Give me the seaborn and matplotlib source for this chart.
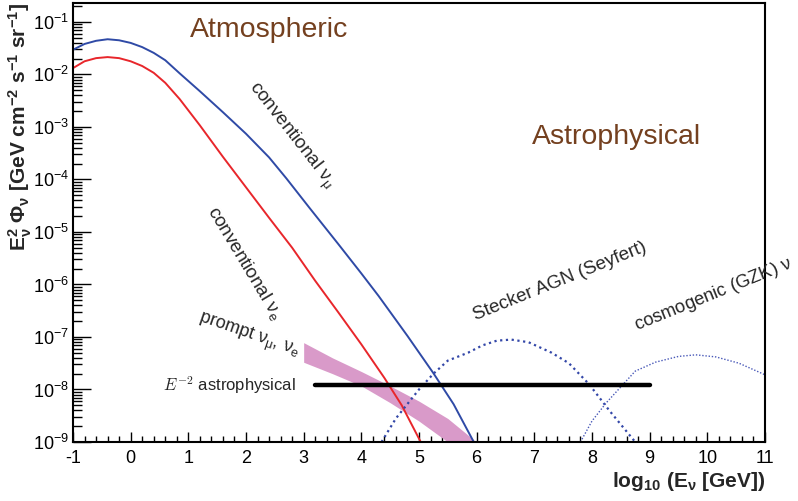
import numpy as np
import pandas as pd
import matplotlib
matplotlib.use("Agg")
import matplotlib.pyplot as plt
from matplotlib.ticker import LogLocator, MultipleLocator, NullFormatter
import seaborn as sns

# ---- data: log10(E / GeV) and log10(E^2 Phi / GeV cm^-2 s^-1 sr^-1) ----
conv_mu_logE = [-1.0, -0.8, -0.6, -0.4, -0.2, 0.0, 0.2, 0.4, 0.6, 0.85, 1.2, 1.6,
                2.0, 2.4, 2.7, 3.1, 3.6, 4.0, 4.3, 4.8, 5.25, 5.6, 5.95]
conv_mu_logF = [-1.53, -1.42, -1.36, -1.33, -1.35, -1.40, -1.48, -1.59, -1.73, -1.98,
                -2.32, -2.72, -3.13, -3.58, -3.98, -4.54, -5.23, -5.79, -6.22, -6.98,
                -7.69, -8.28, -9.0]

conv_e_logE = [-1.0, -0.8, -0.6, -0.4, -0.2, 0.0, 0.2, 0.4, 0.6, 0.85, 1.2, 1.6,
               2.0, 2.4, 2.8, 3.2, 3.6, 4.0, 4.4, 4.7, 5.03]
conv_e_logF = [-1.88, -1.75, -1.69, -1.67, -1.69, -1.75, -1.84, -1.97, -2.16, -2.47,
               -2.97, -3.57, -4.15, -4.73, -5.3, -5.93, -6.53, -7.14, -7.78, -8.3, -9.0]

prompt_logE = [3.0, 3.5, 4.0, 4.5, 5.0, 5.5, 5.95]
prompt_hi = [7.8e-8, 4.0e-8, 2.2e-8, 1.17e-8, 6.0e-9, 2.8e-9, 1.1e-9]
prompt_lo = [3.3e-8, 2.0e-8, 1.17e-8, 5.6e-9, 2.5e-9, 1.0e-9, 3.2e-10]

e2_logE = [3.2, 9.0]
e2_flux = [1.2e-8, 1.2e-8]

agn_logE = [4.35, 4.6, 5.0, 5.25, 5.5, 5.85, 6.1, 6.35, 6.6, 6.9, 7.3, 7.6, 7.95, 8.3, 8.75]
agn_logF = [-9.0, -8.55, -8.0, -7.7, -7.45, -7.3, -7.16, -7.07, -7.05, -7.1, -7.3,
            -7.5, -7.9, -8.4, -9.0]

gzk_logE = [7.8, 8.0, 8.25, 8.5, 8.75, 9.1, 9.5, 9.8, 10.15, 10.55, 11.0]
gzk_logF = [-9.0, -8.6, -8.25, -7.95, -7.65, -7.48, -7.37, -7.34, -7.38, -7.5, -7.72]

sns.set_theme(style="ticks")
plt.rcParams["font.family"] = ["Liberation Sans", "DejaVu Sans"]
plt.rcParams["mathtext.fontset"] = "custom"
plt.rcParams["mathtext.rm"] = "Liberation Sans"
plt.rcParams["mathtext.it"] = "Liberation Sans:italic"
plt.rcParams["mathtext.bf"] = "Liberation Sans:bold"
plt.rcParams["axes.unicode_minus"] = False

fig = plt.figure(figsize=(7.98, 5.01), dpi=100)
ax = fig.add_axes([73 / 798, 1 - 442 / 501, 692 / 798, 439 / 501])
ax.set_yscale("log")


def curve(logE, logF):
    return pd.DataFrame({"logE": logE, "flux": np.power(10.0, logF)})


BLUE = "#2f4aa6"
RED = "#e8262b"
PINK = "#d99ac9"

sns.lineplot(data=curve(conv_mu_logE, conv_mu_logF), x="logE", y="flux", ax=ax,
             color=BLUE, lw=1.4, estimator=None, sort=False)
sns.lineplot(data=curve(conv_e_logE, conv_e_logF), x="logE", y="flux", ax=ax,
             color=RED, lw=1.4, estimator=None, sort=False)
ax.fill_between(prompt_logE, prompt_lo, prompt_hi, color=PINK, lw=0)
sns.lineplot(data=curve(agn_logE, agn_logF), x="logE", y="flux", ax=ax,
             color="#3347a8", lw=1.6, ls=(0, (1, 1.6)), estimator=None, sort=False)
sns.lineplot(data=curve(gzk_logE, gzk_logF), x="logE", y="flux", ax=ax,
             color="#4858b8", lw=1.0, ls=(0, (1, 1.3)), estimator=None, sort=False)
sns.lineplot(data=pd.DataFrame({"logE": e2_logE, "flux": e2_flux}), x="logE", y="flux",
             ax=ax, color="black", lw=3.2, estimator=None, sort=False)

ax.set_xlim(-1, 11)
ax.set_ylim(1e-9, 10 ** -0.64)

ax.xaxis.set_major_locator(MultipleLocator(1))
ax.xaxis.set_minor_locator(MultipleLocator(0.2))
ax.yaxis.set_major_locator(LogLocator(base=10, numticks=20))
ax.yaxis.set_minor_locator(LogLocator(base=10, subs=np.arange(2, 10), numticks=100))
ax.yaxis.set_minor_formatter(NullFormatter())

ax.tick_params(axis="both", which="both", direction="in", top=False, right=False,
               colors="black", labelsize=13, width=1.0)
ax.tick_params(axis="y", which="major", length=13, pad=3)
ax.tick_params(axis="y", which="minor", length=6.5)
ax.tick_params(axis="x", which="major", length=7.5, pad=6)
ax.tick_params(axis="x", which="minor", length=4.3)
for s in ax.spines.values():
    s.set_linewidth(1.5)
    s.set_color("black")

ax.set_ylabel(r"$\mathbf{E^{2}_{\nu}\ \Phi_{\nu}\ [GeV\ cm^{-2}\ s^{-1}\ sr^{-1}]}$",
              fontsize=15, loc="top")
ax.yaxis.set_label_coords(-0.057, 1.0)
ax.set_xlabel(r"$\mathbf{log_{10}\ (E_{\nu}\ [GeV])}$", fontsize=15, loc="right",
              labelpad=2)

BROWN = "#74401f"
ax.text(0.283, 0.938, "Atmospheric", transform=ax.transAxes, fontsize=20.5,
        color=BROWN, ha="center", va="center")
ax.text(0.786, 0.695, "Astrophysical", transform=ax.transAxes, fontsize=20.5,
        color=BROWN, ha="center", va="center")

ax.text(2.78, 7e-4, r"conventional $\mathrm{\nu_{\mu}}$", fontsize=13.5, rotation=-52,
        ha="center", va="center", rotation_mode="anchor")
ax.text(1.97, 2.6e-6, r"conventional $\mathrm{\nu_{e}}$", fontsize=13.5, rotation=-59,
        ha="center", va="center", rotation_mode="anchor")
ax.text(2.05, 1.05e-7, r"prompt $\mathrm{\nu_{\mu},\,\nu_{e}}$", fontsize=13,
        rotation=-19, ha="center", va="center", rotation_mode="anchor")
ax.text(2.86, 1.2e-8, r"$E^{-2}$ astrophysical", fontsize=12, ha="right", va="center",
        math_fontfamily="cm")
ax.text(7.45, 1.15e-6, "Stecker AGN (Seyfert)", fontsize=13.5, rotation=22,
        ha="center", va="center", rotation_mode="anchor")
ax.text(10.1, 6.5e-7, r"cosmogenic (GZK) $\mathrm{\nu}$", fontsize=13.2, rotation=22,
        ha="center", va="center", rotation_mode="anchor", clip_on=False)

fig.savefig("out.png", dpi=100)
